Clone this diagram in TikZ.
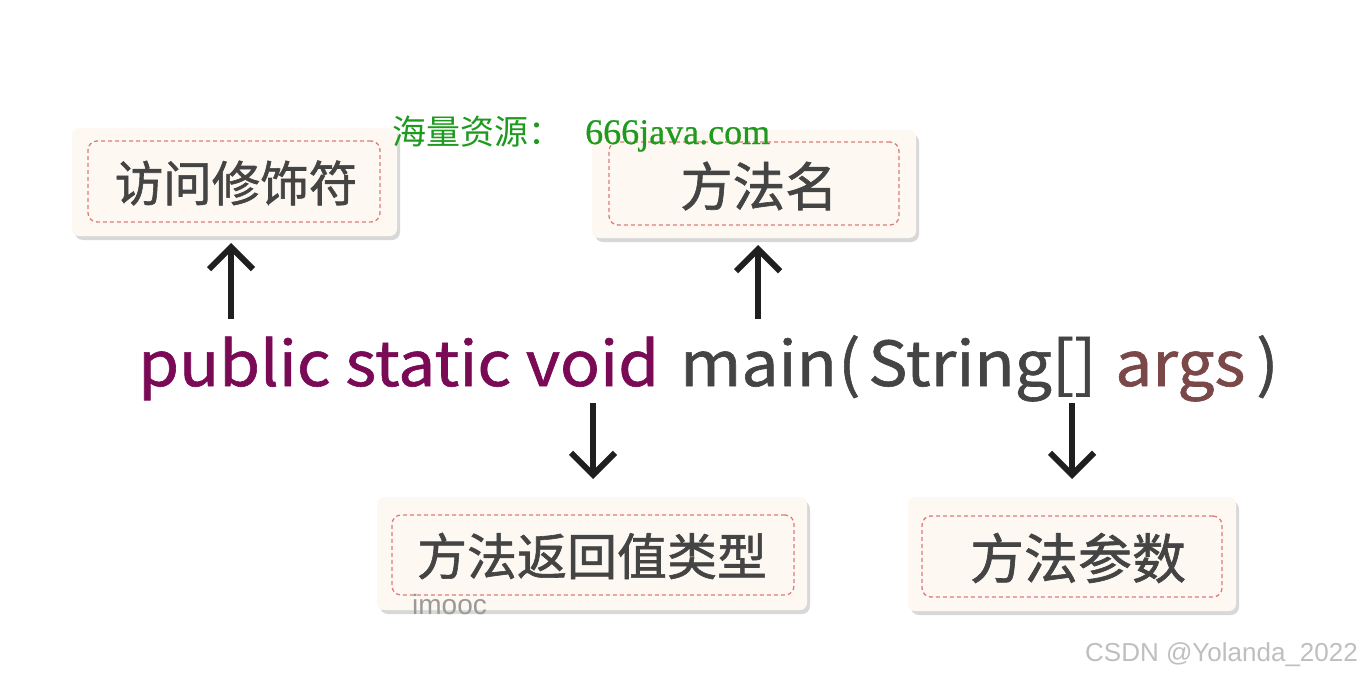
\documentclass[tikz,border=0pt]{standalone}
\usepackage{fontspec}
\setmainfont{Noto Sans CJK SC}
\newfontfamily\cjk[FakeBold=1.2]{Noto Sans CJK SC}
\newfontfamily\cjkwide[FakeBold=1.0,FakeStretch=1.065]{Noto Sans CJK SC}
\newfontfamily\cjkwm{Noto Sans CJK SC}
\newfontfamily\wmserif[FakeBold=0.6]{Liberation Serif}
\newfontfamily\wmsans{Liberation Sans}
\usetikzlibrary{arrows.meta}
\definecolor{boxfill}{HTML}{FDF9F2}
\definecolor{dashred}{HTML}{E07A7A}
\definecolor{txtgray}{HTML}{444444}
\definecolor{kwpurple}{HTML}{7A0A55}
\definecolor{argbrown}{HTML}{7A4848}
\definecolor{wmgreen}{HTML}{1E9A1E}
\definecolor{shadowgray}{HTML}{D8D8D8}
\definecolor{marklgray}{HTML}{9A9A9A}
\tikzset{
  outerbox/.style={fill=boxfill, rounded corners=7pt, draw=none},
  shadowbox/.style={fill=shadowgray, rounded corners=8pt, draw=none},
  innerbox/.style={draw=dashred, dashed, dash pattern=on 4pt off 3pt, line width=1.3pt, rounded corners=9pt, fill=none},
  boxtext/.style={text=txtgray, inner sep=0pt},
  codetext/.style={anchor=base west, inner sep=0pt, font=\cjkwide\fontsize{62}{66}\selectfont},
  bigarrow/.style={line width=6.5pt, draw=black!88, -{Straight Barb[length=22pt,width=44pt,line width=6pt]}},
}
\begin{document}
\begin{tikzpicture}[x=1pt,y=-1pt]
\useasboundingbox (0,0) rectangle (1362,674);
\fill[white] (0,0) rectangle (1362,674);

% shadows
\fill[shadowbox] (75,132) rectangle (400,240);
\fill[shadowbox] (595,134) rectangle (919,242);
\fill[shadowbox] (380,501) rectangle (810,614);
\fill[shadowbox] (911,501) rectangle (1239,615);

% boxes
\node[outerbox, minimum width=325pt, minimum height=108pt] (b1) at (234.5,182) {};
\node[innerbox, minimum width=292pt, minimum height=81pt] (i1) at (234,181.5) {};
\node[boxtext, font=\cjk\fontsize{48.5}{52}\selectfont] (t1) at (236,183) {访问修饰符};

\node[outerbox, minimum width=324pt, minimum height=108pt] (b2) at (754,184) {};
\node[innerbox, minimum width=290pt, minimum height=83pt] (i2) at (754,183.5) {};
\node[boxtext, font=\cjk\fontsize{52.5}{56}\selectfont] (t2) at (759,186) {方法名};

\node[outerbox, minimum width=430pt, minimum height=113pt] (b3) at (592,553.5) {};
\node[innerbox, minimum width=402pt, minimum height=80pt] (i3) at (593,555) {};
\node[boxtext, font=\cjk\fontsize{50}{54}\selectfont] (t3) at (592,556) {方法返回值类型};

\node[outerbox, minimum width=328pt, minimum height=114pt] (b4) at (1072,554) {};
\node[innerbox, minimum width=300pt, minimum height=81pt] (i4) at (1072,556.5) {};
\node[boxtext, font=\cjk\fontsize{54}{58}\selectfont] (t4) at (1078,558) {方法参数};

% code line
\node[codetext, text=kwpurple] (kw) at (138,386) {public static void};
\node[codetext, text=txtgray] (mn) at (680,386) {main};
\node[codetext, text=txtgray] (lp) at (838,386) {(};
\node[codetext, text=txtgray] (st) at (868,386) {String[]};
\node[codetext, text=argbrown] (ar) at (1115,386) {args};
\node[codetext, text=txtgray] (rp) at (1256,386) {)};

% arrows
\coordinate (a1s) at (231,319);
\coordinate (a2s) at (758,319);
\coordinate (a3s) at (593,403);
\coordinate (a4s) at (1072,403);
\coordinate (a1e) at (231,243);
\coordinate (a2e) at (758,245);
\coordinate (a3e) at (593,479);
\coordinate (a4e) at (1072,479);
\draw[bigarrow] (a1s) -- (a1e);
\draw[bigarrow] (a2s) -- (a2e);
\draw[bigarrow] (a3s) -- (a3e);
\draw[bigarrow] (a4s) -- (a4e);

% watermarks
\node[anchor=base west, inner sep=0pt, text=wmgreen, font=\cjkwm\fontsize{34}{36}\selectfont] (wm1) at (392,144) {海量资源：};
\node[anchor=base west, inner sep=0pt, text=wmgreen, font=\wmserif\fontsize{36}{38}\selectfont] (wm2) at (585,144) {666java.com};
\node[anchor=base west, inner sep=0pt, text=marklgray, font=\wmsans\fontsize{28}{30}\selectfont] (imc) at (412,614) {imooc};
\node[anchor=base east, inner sep=0pt, text=black!25, font=\wmsans\fontsize{26}{28}\selectfont] (csdn) at (1358,661) {CSDN @Yolanda\_2022};
\end{tikzpicture}
\end{document}
